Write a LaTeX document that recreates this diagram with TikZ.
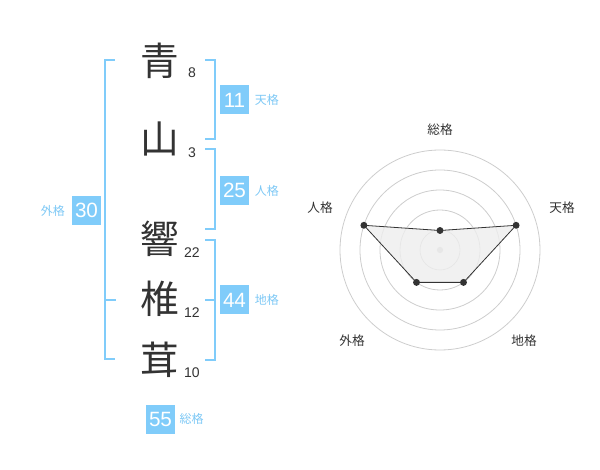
\documentclass[tikz,border=0pt]{standalone}
\usepackage{fontspec}
\setmainfont{Liberation Sans}
\newfontfamily\cjk{Noto Sans CJK JP}
\definecolor{kblue}{RGB}{128,204,250}
\definecolor{klabel}{RGB}{125,200,245}
\definecolor{kdark}{RGB}{51,51,51}
\definecolor{kring}{RGB}{205,205,205}
\definecolor{kfill}{RGB}{238,238,238}
\begin{document}
\begin{tikzpicture}[x=0.75pt,y=-0.75pt,
  kanji/.style={font=\cjk\fontsize{29}{29}\selectfont, text=kdark, inner sep=0pt},
  strokes/.style={font=\fontsize{10.5}{10.5}\selectfont, text=kdark, inner sep=0pt},
  score/.style={fill=kblue, text=white, font=\fontsize{15.5}{15.5}\selectfont, minimum width=21.75pt, minimum height=21.75pt, inner sep=0pt},
  kaku/.style={font=\cjk\fontsize{9}{9}\selectfont, text=klabel, inner sep=0pt},
  bracket/.style={draw=kblue, line width=1.5pt},
  ring/.style={draw=kring, line width=0.6pt},
  axislabel/.style={font=\cjk\fontsize{9.5}{9.5}\selectfont, text=kdark, inner sep=0pt},
  dot/.style={circle, fill=kdark, inner sep=0pt, minimum size=5.2pt},
]
\useasboundingbox (0,0) rectangle (600,470);

% name characters
\node[kanji] (c1) at (160,61) {青};
\node[kanji] (c2) at (160,139) {山};
\node[kanji] (c3) at (160,239) {響};
\node[kanji] (c4) at (160,299) {椎};
\node[kanji] (c5) at (160,360) {茸};

\node[strokes] (n1) at (192,73) {8};
\node[strokes] (n2) at (192,153) {3};
\node[strokes] (n3) at (192,253) {22};
\node[strokes] (n4) at (192,313) {12};
\node[strokes] (n5) at (192,373) {10};

% brackets
\draw[bracket] (205,60.5) -- (214.5,60.5) -- (214.5,139.5) -- (205,139.5);
\draw[bracket] (205,149.5) -- (214.5,149.5) -- (214.5,229.5) -- (205,229.5);
\draw[bracket] (205,240) -- (214.5,240) -- (214.5,360) -- (205,360);
\draw[bracket] (205,300) -- (214.5,300);
\draw[bracket] (115,60.5) -- (105,60.5) -- (105,359) -- (115,359);
\draw[bracket] (105,300) -- (116,300);

% scores
\node[score] (s1) at (234.5,100) {11};
\node[kaku, anchor=west] (k1) at ([xshift=4pt]s1.east) {天格};
\node[score] (s2) at (234.5,190.5) {25};
\node[kaku, anchor=west] (k2) at ([xshift=4pt]s2.east) {人格};
\node[score] (s3) at (234.5,300) {44};
\node[kaku, anchor=west] (k3) at ([xshift=4pt]s3.east) {地格};
\node[score] (s4) at (86.5,210.5) {30};
\node[kaku, anchor=east] (k4) at ([xshift=-5pt]s4.west) {外格};
\node[score] (s5) at (160.5,419) {55};
\node[kaku, anchor=west] (k5) at ([xshift=3pt]s5.east) {総格};

% radar chart
\foreach \r in {15,30,45,60,75} \draw[ring] (440,250) circle[radius=\r pt];
\fill[kring] (440,250) circle[radius=2.4pt];
\coordinate (p1) at (440,230.5);
\coordinate (p2) at (516.1,225.3);
\coordinate (p3) at (463.5,282.4);
\coordinate (p4) at (416.5,282.4);
\coordinate (p5) at (363.9,225.3);
\filldraw[fill=kfill, fill opacity=0.8, draw=kdark, line width=0.6pt] (p1) -- (p2) -- (p3) -- (p4) -- (p5) -- cycle;
\foreach \p in {p1,p2,p3,p4,p5} \node[dot] at (\p) {};

\node[axislabel] (a1) at (440,130) {総格};
\node[axislabel] (a2) at (562,208) {天格};
\node[axislabel] (a3) at (524,341) {地格};
\node[axislabel] (a4) at (352,341) {外格};
\node[axislabel] (a5) at (320,208) {人格};
\end{tikzpicture}
\end{document}
